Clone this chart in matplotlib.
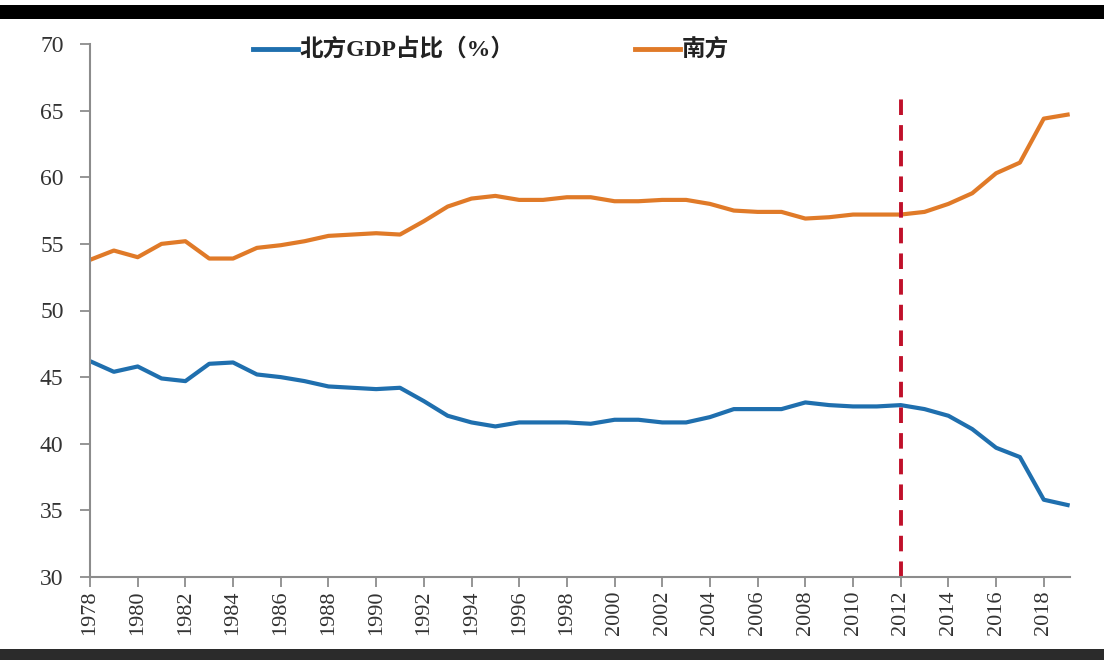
import matplotlib
matplotlib.use("Agg")
import matplotlib.pyplot as plt
from matplotlib.patches import Rectangle

plt.rcParams['font.family'] = ['Liberation Serif', 'Noto Sans CJK SC', 'DejaVu Sans']

years = list(range(1978, 2020))
north = [46.2, 45.4, 45.8, 44.9, 44.7, 46.0, 46.1, 45.2, 45.0, 44.7,
         44.3, 44.2, 44.1, 44.2, 43.2, 42.1, 41.6, 41.3, 41.6, 41.6,
         41.6, 41.5, 41.8, 41.8, 41.6, 41.6, 42.0, 42.6, 42.6, 42.6,
         43.1, 42.9, 42.8, 42.8, 42.9, 42.6, 42.1, 41.1, 39.7, 39.0,
         35.8, 35.4]
south = [53.8, 54.5, 54.0, 55.0, 55.2, 53.9, 53.9, 54.7, 54.9, 55.2,
         55.6, 55.7, 55.8, 55.7, 56.7, 57.8, 58.4, 58.6, 58.3, 58.3,
         58.5, 58.5, 58.2, 58.2, 58.3, 58.3, 58.0, 57.5, 57.4, 57.4,
         56.9, 57.0, 57.2, 57.2, 57.2, 57.4, 58.0, 58.8, 60.3, 61.1,
         64.4, 64.7]
labels = ['北方GDP占比（%）', '南方']
yticks = [30, 35, 40, 45, 50, 55, 60, 65, 70]
xticks = list(range(1978, 2020, 2))
marker_year = 2012

W, H = 1104, 660
fig = plt.figure(figsize=(W / 100, H / 100), dpi=100)
fig.patch.set_facecolor('white')

# top black band and bottom dark strip (framing of the screenshot)
fig.patches.append(Rectangle((0, 1 - 19 / H), 1, 14 / H, transform=fig.transFigure,
                             facecolor='black', edgecolor='none'))
fig.patches.append(Rectangle((0, 0), 1, 11 / H, transform=fig.transFigure,
                             facecolor='#2b2b2b', edgecolor='none'))

ax = fig.add_axes([90 / W, 1 - 577 / H, (1070 - 90) / W, (577 - 44) / H])
blue = '#1f6fae'
orange = '#e07a28'
ax.plot(years, north, color=blue, lw=3.0, solid_joinstyle='round')
ax.plot(years, south, color=orange, lw=3.0, solid_joinstyle='round')

ax.set_ylim(30, 70)
ax.set_xlim(1978, 2019.1)
ax.axvline(marker_year, ymin=0, ymax=(66.2 - 30) / 40, color='#c0102a',
           lw=2.8, ls=(0, (4, 2.6)))

ax.set_yticks(yticks)
ax.set_xticks(xticks)
ax.set_xticklabels([str(x) for x in xticks], rotation=90)
for s in ['top', 'right']:
    ax.spines[s].set_visible(False)
for s in ['left', 'bottom']:
    ax.spines[s].set_color('#8c8c8c')
    ax.spines[s].set_linewidth(1.5)
ax.tick_params(axis='y', length=7, width=1.3, color='#8c8c8c', pad=12,
               labelsize=17, labelcolor='#333333')
ax.tick_params(axis='x', length=7, width=1.3, color='#8c8c8c', pad=3,
               labelsize=16, labelcolor='#333333')
ax.patch.set_alpha(0)

# legend (drawn as in the original: two entries on one row at the top)
fig.lines.append(plt.Line2D([253 / W, 298 / W], [1 - 49 / H, 1 - 49 / H],
                            transform=fig.transFigure, color=blue, lw=3.5))
fig.text(300 / W, 1 - 49 / H, labels[0], fontsize=17, fontweight='bold',
         va='center', ha='left', color='#222222',
         family=['Liberation Serif', 'Noto Sans CJK SC'])
fig.lines.append(plt.Line2D([635 / W, 680 / W], [1 - 49 / H, 1 - 49 / H],
                            transform=fig.transFigure, color=orange, lw=3.5))
fig.text(682 / W, 1 - 49 / H, labels[1], fontsize=17, fontweight='bold',
         va='center', ha='left', color='#222222',
         family=['Noto Sans CJK SC', 'DejaVu Sans'])

fig.savefig('out.png', dpi=100)
